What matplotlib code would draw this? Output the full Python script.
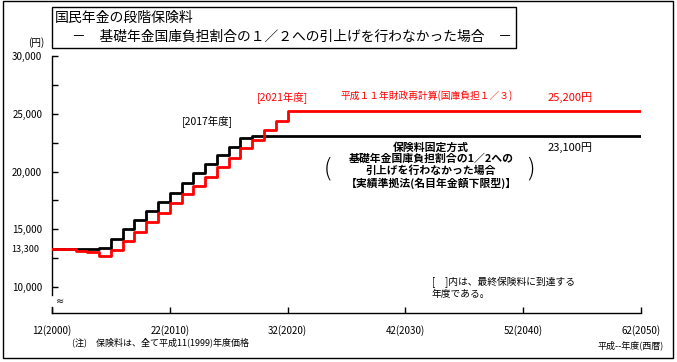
import matplotlib
matplotlib.use("Agg")
import matplotlib.pyplot as plt
from matplotlib.patches import Rectangle
import matplotlib.transforms as mtransforms

plt.rcParams['font.family'] = ['Noto Sans CJK JP', 'DejaVu Sans']

# ---- data ----
years = [2000, 2001, 2002, 2003, 2004, 2005, 2006, 2007, 2008, 2009, 2010,
         2011, 2012, 2013, 2014, 2015, 2016, 2017, 2018, 2019, 2020, 2050]
red_values = [13300, 13300, 13140, 12990, 12710, 13230, 14000, 14780, 15640, 16410, 17290,
              18070, 18770, 19550, 20410, 21190, 22060, 22750, 23610, 24390, 25200, 25200]
black_values = [13300, 13300, 13300, 13300, 13420, 14180, 15040, 15820, 16600, 17380, 18160,
                19030, 19890, 20670, 21450, 22140, 22920, 23100, 23100, 23100, 23100, 23100]

x_ticks = [2000, 2010, 2020, 2030, 2040, 2050]
x_labels = ['12(2000)', '22(2010)', '32(2020)', '42(2030)', '52(2040)', '62(2050)']
y_major = [10000, 15000, 20000, 25000, 30000]
y_major_labels = ['10,000', '15,000', '20,000', '25,000', '30,000']
y_minor = [12500, 17500, 22500, 27500]

W, H = 677, 362
fig = plt.figure(figsize=(W / 100, H / 100), dpi=100)

def fx(px):
    return px / W

def fy(py):
    return 1 - py / H

ax = fig.add_axes([fx(52), fy(313), fx(641) - fx(52), fy(56) - fy(313)])
ax.set_xlim(2000, 2050)
ax.set_ylim(7750, 30000)

ax.step(years, black_values, where='post', color='black', lw=2.0, zorder=3)
ax.step(years, red_values, where='post', color='#ff0000', lw=2.0, zorder=4)

for s in ['top', 'right']:
    ax.spines[s].set_visible(False)
ax.spines['left'].set_bounds(9300, 30000)
ax.spines['left'].set_linewidth(1.0)
ax.spines['bottom'].set_linewidth(1.0)
# lower piece of the broken y axis
ax.plot([2000, 2000], [7750, 8300], color='black', lw=1.0, clip_on=False, zorder=5)
ax.text(2000.35, 8750, '≈', fontsize=7, ha='left', va='center', family=['DejaVu Sans'])

ax.set_xticks(x_ticks)
ax.set_xticklabels(x_labels, fontsize=7)
ax.set_yticks(y_major)
ax.set_yticklabels(y_major_labels, fontsize=7)
ax.set_yticks(y_minor, minor=True)
ax.tick_params(axis='y', which='both', direction='in', length=4, width=1, pad=7)
ax.tick_params(axis='x', which='both', direction='in', length=4, width=1, pad=9)
ax.set_xticks([], minor=True)

# 13,300 label
ax.text(-0.022, 13300, '13,300', fontsize=6.5, ha='right', va='center',
        transform=mtransforms.blended_transform_factory(ax.transAxes, ax.transData))

# ---- annotations ----
fig.text(fx(36), fy(43), '(円)', fontsize=7, ha='center', va='center')

# title box
fig.patches.append(Rectangle((fx(52), fy(48)), fx(516) - fx(52), fy(7) - fy(48),
                             transform=fig.transFigure, fill=False, ec='black', lw=1.0))
fig.text(fx(55), fy(18), '国民年金の段階保険料', fontsize=10, ha='left', va='center')
fig.text(fx(72), fy(37), '－　基礎年金国庫負担割合の１／２への引上げを行わなかった場合　－',
         fontsize=9.9, ha='left', va='center')

fig.text(fx(207), fy(122), '[2017年度]', fontsize=7.5, ha='center', va='center', color='black')
fig.text(fx(282), fy(98), '[2021年度]', fontsize=7.5, ha='center', va='center', color='#ff0000')
fig.text(fx(427), fy(96), '平成１１年財政再計算(国庫負担１／３)', fontsize=7, ha='center',
         va='center', color='#ff0000')
fig.text(fx(570), fy(98), '25,200円', fontsize=8, ha='center', va='center', color='#ff0000')
fig.text(fx(570), fy(148), '23,100円', fontsize=8, ha='center', va='center', color='black')

block = ['保険料固定方式', '基礎年金国庫負担割合の1／2への', '引上げを行わなかった場合',
         '【実績準拠法(名目年金額下限型)】']
for txt, yy in zip(block, [147, 159, 171, 183]):
    fig.text(fx(431), fy(yy), txt, fontsize=7.8, ha='center', va='center', fontweight='bold')
fig.text(fx(327), fy(169), '(', fontsize=17, ha='center', va='center', fontweight='light')
fig.text(fx(531), fy(169), ')', fontsize=17, ha='center', va='center', fontweight='light')

fig.text(fx(432), fy(282), '[　]内は、最終保険料に到達する', fontsize=7, ha='left', va='center')
fig.text(fx(432), fy(294), '年度である。', fontsize=7, ha='left', va='center')

fig.text(fx(72), fy(342), '(注)　保険料は、全て平成11(1999)年度価格', fontsize=6.5, ha='left', va='center')
fig.text(fx(664), fy(345), '平成--年度(西暦)', fontsize=6.5, ha='right', va='center')

# outer frame
fig.patches.append(Rectangle((fx(3), fy(358)), fx(673) - fx(3), fy(1) - fy(358),
                             transform=fig.transFigure, fill=False, ec='black', lw=1.0))

fig.savefig('out.png', dpi=100)
